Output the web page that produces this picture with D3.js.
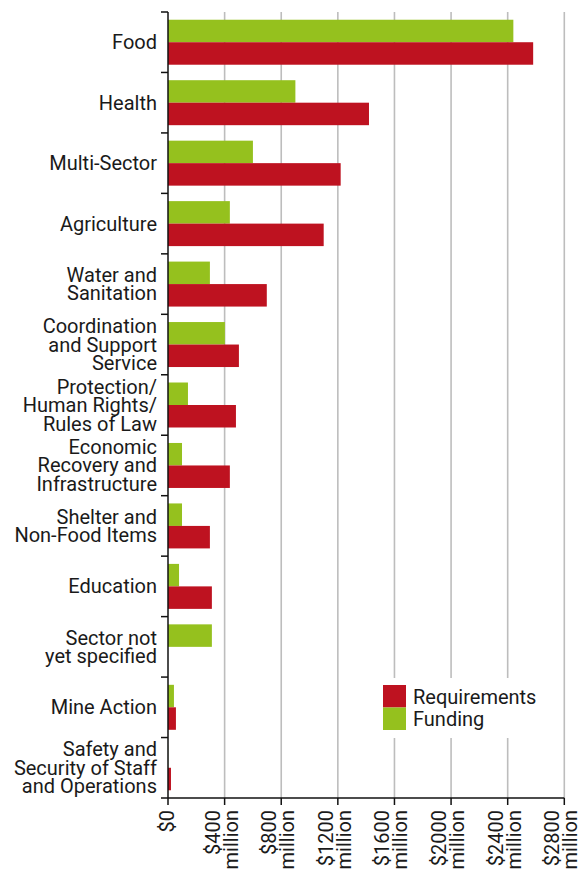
<!DOCTYPE html>
<html><head><meta charset="utf-8">
<script src="https://cdn.jsdelivr.net/npm/d3@7"></script>
<style>html,body{margin:0;padding:0;background:#fff;}svg{display:block;}text{font-family:Roboto,sans-serif;fill:#1a1a1a;}</style>
</head><body>
<script>
const categories = [
  ["Food"], ["Health"], ["Multi-Sector"], ["Agriculture"],
  ["Water and","Sanitation"],
  ["Coordination","and Support","Service"],
  ["Protection/","Human Rights/","Rules of Law"],
  ["Economic","Recovery and","Infrastructure"],
  ["Shelter and","Non-Food Items"],
  ["Education"],
  ["Sector not","yet specified"],
  ["Mine Action"],
  ["Safety and","Security of Staff","and Operations"]
];
const funding      = [2440, 900, 600, 437, 296, 402, 141, 99, 99, 78, 310, 42, 1];
const requirements = [2580, 1420, 1220, 1100, 698, 501, 480, 437, 296, 310, 0, 56, 21];
const tickValues = [0, 400, 800, 1200, 1600, 2000, 2400, 2800];
const tickLabels = [["$0"],["$400","million"],["$800","million"],["$1200","million"],["$1600","million"],["$2000","million"],["$2400","million"],["$2800","million"]];
const seriesNames = ["Requirements","Funding"];
const colors = {Requirements:"#be1220", Funding:"#95c11e"};

const W = 581, H = 873;
const m = {left:168, top:12, right:W-564.3, bottom:H-798};
const svg = d3.select("body").append("svg").attr("width",W).attr("height",H);

const x = d3.scaleLinear().domain([0,2800]).range([m.left, W-m.right]);
const idx = d3.range(categories.length);
const y = d3.scaleBand().domain(idx).range([m.top, H-m.bottom]).paddingInner(0.256).paddingOuter(0.128);
const sub = d3.scaleBand().domain(["Funding","Requirements"]).range([0, y.bandwidth()]);

// gridlines
svg.append("g").selectAll("line").data(tickValues.slice(1)).join("line")
  .attr("x1",d=>x(d)).attr("x2",d=>x(d)).attr("y1",m.top).attr("y2",H-m.bottom)
  .attr("stroke","#bdbdbd").attr("stroke-width",1.6);

// bars
const g = svg.append("g");
g.selectAll(".f").data(idx).join("rect").attr("class","f")
  .attr("x",x(0)).attr("y",i=>y(i)+sub("Funding")).attr("height",sub.bandwidth())
  .attr("width",i=>x(funding[i])-x(0)).attr("fill",colors.Funding);
g.selectAll(".r").data(idx).join("rect").attr("class","r")
  .attr("x",x(0)).attr("y",i=>y(i)+sub("Requirements")).attr("height",sub.bandwidth())
  .attr("width",i=>x(requirements[i])-x(0)).attr("fill",colors.Requirements);

// left axis line and ticks at band boundaries
const step = y.step();
const bounds = d3.range(categories.length+1).map(i=>m.top + i*step);
svg.append("line").attr("x1",x(0)).attr("x2",x(0)).attr("y1",m.top).attr("y2",H-m.bottom).attr("stroke","#111").attr("stroke-width",1.5);
svg.append("g").selectAll("line").data(bounds).join("line")
  .attr("x1",x(0)-7).attr("x2",x(0)).attr("y1",d=>d).attr("y2",d=>d).attr("stroke","#111").attr("stroke-width",1.5);

// category labels
const fs = 20, lh = 18.5;
const lab = svg.append("g").attr("font-size",fs).attr("text-anchor","end");
idx.forEach(i=>{
  const lines = categories[i];
  const cy = y(i) + y.bandwidth()/2;
  const t = lab.append("text");
  lines.forEach((l,j)=>t.append("tspan").attr("x",x(0)-11)
    .attr("y", cy + (j-(lines.length-1)/2)*lh).attr("dy","0.35em").text(l));
});

// bottom axis
const by = H-m.bottom;
svg.append("line").attr("x1",x(0)).attr("x2",x(2800)).attr("y1",by).attr("y2",by).attr("stroke","#111").attr("stroke-width",1.5);
svg.append("g").selectAll("line").data(tickValues).join("line")
  .attr("x1",d=>x(d)).attr("x2",d=>x(d)).attr("y1",by).attr("y2",by+7).attr("stroke","#111").attr("stroke-width",1.5);
const tl = svg.append("g").attr("font-size",fs).attr("text-anchor","end");
tickValues.forEach((v,k)=>{
  const lines = tickLabels[k];
  const t = tl.append("text").attr("transform",`translate(${x(v)-(lines.length>1?3:1)},${by+12}) rotate(-90)`);
  lines.forEach((l,j)=>t.append("tspan").attr("x",0)
    .attr("y", (j - (lines.length-1)/2)*18).attr("dy","0.35em").text(l));
});

// legend
const lg = svg.append("g").attr("transform","translate(376,678)");
lg.append("rect").attr("width",180).attr("height",60).attr("fill","#fff");
seriesNames.forEach((s,i)=>{
  lg.append("rect").attr("x",7).attr("y",7+i*22.5).attr("width",23).attr("height",22.5).attr("fill",colors[s]);
  lg.append("text").attr("x",37).attr("y",18.5+i*22.5).attr("dy","0.35em").attr("font-size",fs).text(s);
});
</script>
</body></html>
